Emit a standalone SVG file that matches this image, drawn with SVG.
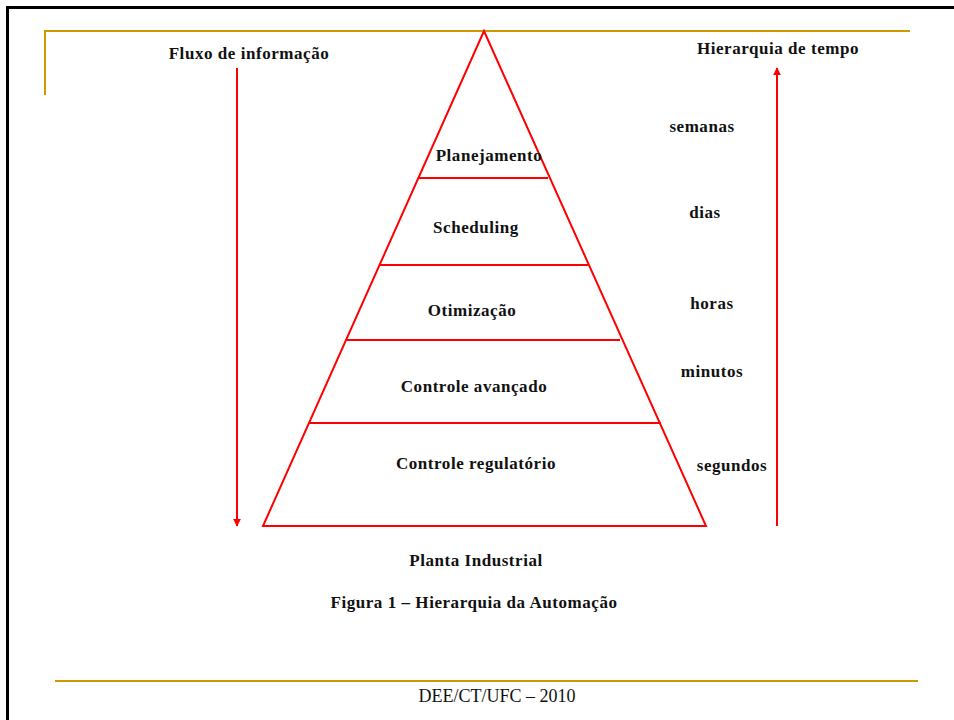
<svg xmlns="http://www.w3.org/2000/svg" width="954" height="720" viewBox="0 0 954 720">
  <style>
    .lbl { font-family: "Liberation Serif", "DejaVu Serif", serif; font-weight: bold; font-size: 17px; letter-spacing: 0.55px; fill: #111; text-anchor: middle; }
    .foot { font-family: "Liberation Serif", "DejaVu Serif", serif; font-size: 18px; fill: #111; text-anchor: middle; }
    .red { stroke: #ff0000; stroke-width: 2; fill: none; }
    .gold { stroke: #cc9900; stroke-width: 2; fill: none; }
  </style>
  <defs>
    <marker id="head" viewBox="0 0 10 10" refX="9" refY="5" markerWidth="4" markerHeight="4" orient="auto">
      <path d="M0,0 L10,5 L0,10 z" fill="#ff0000"/>
    </marker>
  </defs>

  <rect width="954" height="720" fill="#ffffff"/>

  <!-- slide frame -->
  <path d="M7.5,720 V7.5 H954" stroke="#000" stroke-width="3" fill="none"/>
  <path class="gold" d="M45,95 V31 H910"/>
  <line class="gold" x1="55" y1="681" x2="918" y2="681"/>
  <text class="foot" x="497" y="702">DEE/CT/UFC – 2010</text>

  <!-- pyramid -->
  <g id="pyramid">
    <path class="red" d="M484,31 L706,526 L263,526 Z"/>
    <line class="red" x1="418" y1="178" x2="548" y2="178"/>
    <line class="red" x1="379" y1="265" x2="588" y2="265"/>
    <line class="red" x1="346" y1="340" x2="620" y2="340"/>
    <line class="red" x1="309" y1="423" x2="661" y2="423"/>
  </g>

  <g id="level-planejamento"><text class="lbl" x="489" y="161">Planejamento</text></g>
  <g id="level-scheduling"><text class="lbl" x="476" y="233">Scheduling</text></g>
  <g id="level-otimizacao"><text class="lbl" x="472" y="316">Otimização</text></g>
  <g id="level-avancado"><text class="lbl" x="474" y="392">Controle avançado</text></g>
  <g id="level-regulatorio"><text class="lbl" x="476" y="469">Controle regulatório</text></g>
  <g id="planta"><text class="lbl" x="476" y="566">Planta Industrial</text></g>

  <!-- time scale -->
  <g id="t-semanas"><text class="lbl" x="702" y="132">semanas</text></g>
  <g id="t-dias"><text class="lbl" x="705" y="218">dias</text></g>
  <g id="t-horas"><text class="lbl" x="712" y="309">horas</text></g>
  <g id="t-minutos"><text class="lbl" x="712" y="377">minutos</text></g>
  <g id="t-segundos"><text class="lbl" x="732" y="471">segundos</text></g>

  <g id="title-fluxo"><text class="lbl" x="249" y="59">Fluxo de informação</text></g>
  <g id="title-tempo"><text class="lbl" x="778" y="54">Hierarquia de tempo</text></g>

  <!-- connectors -->
  <g id="connectors">
    <line class="red" x1="237" y1="68" x2="237" y2="526" marker-end="url(#head)"/>
    <line class="red" x1="777" y1="526" x2="777" y2="68" marker-end="url(#head)"/>
  </g>

  <text class="lbl" x="474" y="608">Figura 1 – Hierarquia da Automação</text>
</svg>
